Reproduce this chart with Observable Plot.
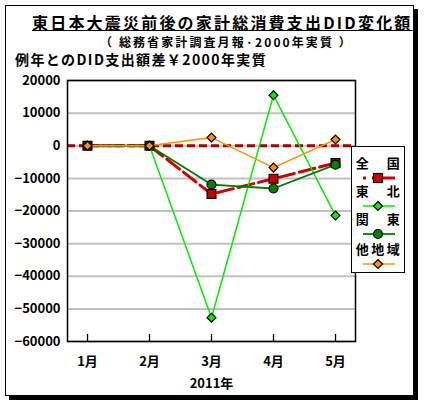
<!DOCTYPE html>
<html><head><meta charset="utf-8">
<script src="https://cdn.jsdelivr.net/npm/d3@7"></script>
<script src="https://cdn.jsdelivr.net/npm/@observablehq/plot@0.6"></script>
<style>
html,body{margin:0;padding:0;background:#fff;}
#page{position:relative;width:424px;height:406px;font-family:"Noto Sans CJK JP","Noto Sans",sans-serif;color:#000;}
#frame{position:absolute;left:5px;top:5px;width:407px;height:389px;border:1px solid #000;box-shadow:4px 4px 0 #000;overflow:hidden;background:#fff;}
.t{position:absolute;white-space:nowrap;font-weight:bold;line-height:1;}
#chart{position:absolute;left:0;top:70px;}
#legend{position:absolute;left:351px;top:146px;width:52px;height:125px;border:1px solid #000;background:#fff;}
#legend .lt{position:absolute;left:0;width:52px;text-align:center;font-size:13px;font-weight:bold;letter-spacing:2.5px;line-height:1;padding-left:2px;box-sizing:border-box;}
#legend svg{position:absolute;left:0;}
</style></head>
<body>
<div id="page">
  <div id="frame">
    <div class="t" id="title" style="left:26px;top:8px;font-size:16px;letter-spacing:2.2px;text-decoration:underline;text-underline-offset:1px;"></div>
    <div class="t" id="subtitle" style="left:94px;top:30px;font-size:12px;letter-spacing:2.1px;"></div>
    <div class="t" id="ylabel" style="left:9px;top:46px;font-size:14px;letter-spacing:1.4px;"></div>
  </div>
  <div id="chart"></div>
  <div id="legend"></div>
</div>
<script>
const titleText = "東日本大震災前後の家計総消費支出DID変化額";
const subtitleText = "（ 総務省家計調査月報·2000年実質 ）";
const yLabelText = "例年とのDID支出額差￥2000年実質";
const xLabelText = "2011年";

const months = ["1月","2月","3月","4月","5月"];
const monthIdx = [1,2,3,4,5];
const yTicks = [20000,10000,0,-10000,-20000,-30000,-40000,-50000,-60000];

const seriesNames = ["全　国","東　北","関　東","他地域"];
const zenkoku = [0,0,-14800,-10100,-5300];
const tohoku  = [0,0,-52700,15500,-21400];
const kanto   = [0,0,-11900,-13100,-5800];
const others  = [0,0,2500,-6700,1900];

document.getElementById("title").textContent = titleText;
document.getElementById("subtitle").textContent = subtitleText;
document.getElementById("ylabel").textContent = yLabelText;

const styles = [
  {stroke:"#cc0000", width:3, dash:"16,5", symbol:"square", fill:"#cc0000", r:5},
  {stroke:"#00ee00", width:1.5, dash:null, symbol:"diamond2", fill:"#00ee00", r:4},
  {stroke:"#007a00", width:1.8, dash:null, symbol:"circle", fill:"#008000", r:4.5},
  {stroke:"#ff9200", width:1.5, dash:null, symbol:"diamond2", fill:"#ff9200", r:4}
];
const values = [zenkoku, tohoku, kanto, others];
const tables = values.map((vals, s) => monthIdx.map((m, i) => ({m, v: vals[i], s})));

const seriesMarks = tables.flatMap((tbl, s) => {
  const st = styles[s];
  return [
    Plot.line(tbl, {x:"m", y:"v", stroke: st.stroke, strokeWidth: st.width, strokeDasharray: st.dash, strokeLinejoin:"round"}),
    Plot.dot(tbl, {x:"m", y:"v", symbol: st.symbol, r: st.r, fill: st.fill, stroke:"#000", strokeWidth:1.2})
  ];
});

const W = 424, H = 325;
const pad = 20/62;
const chart = Plot.plot({
  width: W, height: H,
  marginLeft: 67, marginRight: 69, marginTop: 10, marginBottom: 54,
  style: {fontFamily: "'Noto Sans CJK JP','Noto Sans',sans-serif", fontSize: "13px", fontWeight: "bold", background: "transparent", overflow: "visible", color: "#000"},
  x: {type: "linear", domain: [1 - pad, 5 + pad]},
  y: {domain: [-60000, 20000]},
  marks: [
    Plot.ruleY(yTicks, {stroke: "#c0c0c0", strokeWidth: 2}),
    Plot.ruleY([0], {stroke: "#a80000", strokeWidth: 3, strokeDasharray: "8,4"}),
    Plot.frame({stroke: "#000", strokeWidth: 1.5}),
    Plot.tickX(monthIdx, {x: d => d, insetTop: 254, stroke: "#000", strokeWidth: 1.3}),
    Plot.axisY(yTicks, {tickSize: 0, tickPadding: 7, label: null, fontSize: 13, fontWeight: "bold",
      tickFormat: d => d < 0 ? "\u2212" + Math.abs(d) : String(d)}),
    Plot.axisX(monthIdx, {tickSize: 0, tickPadding: 15, label: null, fontSize: 13, fontWeight: "bold",
      tickFormat: d => months[d - 1]}),
    Plot.text([xLabelText], {frameAnchor: "bottom", dy: 42, text: d => d, fontSize: 13, fontWeight: "bold", lineAnchor: "middle"}),
    ...seriesMarks
  ]
});
document.getElementById("chart").appendChild(chart);

// legend
const legend = document.getElementById("legend");
const ns = "http://www.w3.org/2000/svg";
const rowTop = [9, 37, 65, 95];
seriesNames.forEach((name, s) => {
  const st = styles[s];
  const t = document.createElement("div");
  t.className = "lt";
  t.style.top = rowTop[s] + "px";
  t.textContent = name;
  legend.appendChild(t);
  const svg = document.createElementNS(ns, "svg");
  svg.setAttribute("width", 52); svg.setAttribute("height", 12);
  svg.style.top = (rowTop[s] + 16) + "px";
  const ln = document.createElementNS(ns, "line");
  ln.setAttribute("x1", 11); ln.setAttribute("x2", 43);
  ln.setAttribute("y1", 6); ln.setAttribute("y2", 6);
  ln.setAttribute("stroke", st.stroke); ln.setAttribute("stroke-width", st.width);
  if (st.dash) ln.setAttribute("stroke-dasharray", "3,6,40");
  svg.appendChild(ln);
  let mk;
  if (st.symbol === "square") {
    mk = document.createElementNS(ns, "rect");
    mk.setAttribute("x", 21.5); mk.setAttribute("y", 1.5); mk.setAttribute("width", 9); mk.setAttribute("height", 9);
  } else if (st.symbol === "circle") {
    mk = document.createElementNS(ns, "circle");
    mk.setAttribute("cx", 26); mk.setAttribute("cy", 6); mk.setAttribute("r", 4.5);
  } else {
    mk = document.createElementNS(ns, "path");
    mk.setAttribute("d", "M26,1.5L30.5,6L26,10.5L21.5,6Z");
  }
  mk.setAttribute("fill", st.fill); mk.setAttribute("stroke", "#000"); mk.setAttribute("stroke-width", 1.2);
  svg.appendChild(mk);
  legend.appendChild(svg);
});
</script>
</body></html>
